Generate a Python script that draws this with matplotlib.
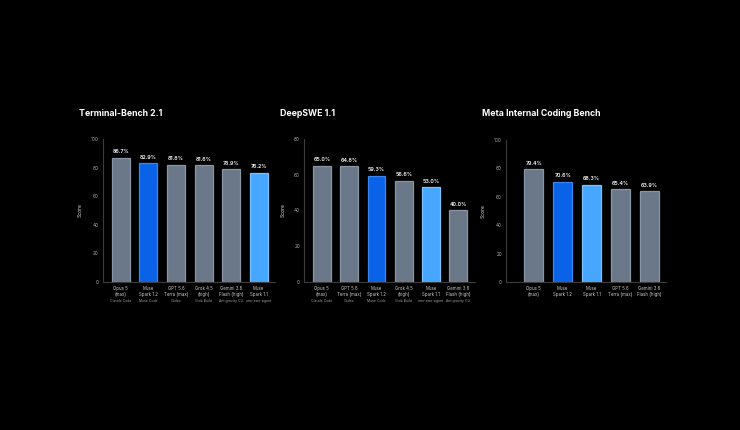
import matplotlib
matplotlib.use("Agg")
import matplotlib.pyplot as plt

plt.rcParams["font.family"] = ["Inter", "DejaVu Sans"]

GRAY = "#6b7889"
GRAY_EDGE = "#8a96a5"
BLUE = "#0a63e6"
BLUE_EDGE = "#3a86f0"
LIGHT = "#47a6ff"
LIGHT_EDGE = "#7cc2ff"

# Terminal-Bench 2.1
tb_models = ["Opus 5\n(max)", "Muse\nSpark 1.2", "GPT 5.6\nTerra (max)",
             "Grok 4.5\n(high)", "Gemini 3.6\nFlash (high)", "Muse\nSpark 1.1"]
tb_harness = ["Claude Code", "Muse Code", "Codex", "Grok Build",
              "Antigravity CLI", "mini-swe-agent"]
tb_scores = [86.7, 82.9, 81.8, 81.6, 78.9, 76.2]
tb_kind = ["gray", "blue", "gray", "gray", "gray", "light"]

# DeepSWE 1.1
ds_models = ["Opus 5\n(max)", "GPT 5.6\nTerra (max)", "Muse\nSpark 1.2",
             "Grok 4.5\n(high)", "Muse\nSpark 1.1", "Gemini 3.6\nFlash (high)"]
ds_harness = ["Claude Code", "Codex", "Muse Code", "Grok Build",
              "mini-swe-agent", "Antigravity CLI"]
ds_scores = [65.0, 64.8, 59.3, 56.6, 53.0, 40.0]
ds_kind = ["gray", "gray", "blue", "gray", "light", "gray"]

# Meta Internal Coding Bench
mi_models = ["Opus 5\n(max)", "Muse\nSpark 1.2", "Muse\nSpark 1.1",
             "GPT 5.6\nTerra (max)", "Gemini 3.6\nFlash (high)"]
mi_harness = None
mi_scores = [79.4, 70.6, 68.3, 65.4, 63.9]
mi_kind = ["gray", "blue", "light", "gray", "gray"]

fill = {"gray": GRAY, "blue": BLUE, "light": LIGHT}
edge = {"gray": GRAY_EDGE, "blue": BLUE_EDGE, "light": LIGHT_EDGE}

fig = plt.figure(figsize=(7.4, 4.3), dpi=100, facecolor="black")


def panel(rect, title, models, harness, scores, kinds, ymax, xlim):
    ax = fig.add_axes(rect)
    ax.set_facecolor("black")
    xs = list(range(len(scores)))
    ax.bar(xs, scores, width=0.65,
           color=[fill[k] for k in kinds],
           edgecolor=[edge[k] for k in kinds], linewidth=0.9)
    for x, s in zip(xs, scores):
        ax.annotate(f"{s:.1f}%", (x, s), xytext=(0, 2.5), textcoords="offset points",
                    ha="center", va="bottom", color="white", fontsize=3.8,
                    fontweight="semibold")
    ax.set_ylim(0, ymax)
    ax.set_yticks(range(0, ymax + 1, 20))
    ax.set_xlim(*xlim)
    ax.set_xticks(xs)
    ax.set_xticklabels(models, fontsize=3.1, color="#cccccc", linespacing=1.3)
    ax.tick_params(axis="both", length=0, pad=3)
    ax.tick_params(axis="y", labelsize=3.4, labelcolor="#b0b0b0")
    for side in ("top", "right"):
        ax.spines[side].set_visible(False)
    for side in ("left", "bottom"):
        ax.spines[side].set_color("#3c3c3c")
        ax.spines[side].set_linewidth(0.8)
    ax.set_ylabel("Score", fontsize=3.6, color="#e0e0e0", labelpad=6)
    if harness:
        for x, h in zip(xs, harness):
            ax.annotate(h, (x, 0), xycoords=("data", "axes fraction"),
                        xytext=(0, -12), textcoords="offset points",
                        ha="center", va="top", fontsize=2.5, color="#a0a0a0")
    fig.text(rect[0] - 0.032, 0.737, title, color="white", fontsize=6.3,
             fontweight="bold", ha="left", va="center")
    return ax


panel([0.139, 0.344, 0.233, 0.333], "Terminal-Bench 2.1",
      tb_models, tb_harness, tb_scores, tb_kind, 100, (-0.65, 5.6))
panel([0.411, 0.344, 0.231, 0.333], "DeepSWE 1.1",
      ds_models, ds_harness, ds_scores, ds_kind, 80, (-0.65, 5.62))
panel([0.684, 0.344, 0.216, 0.331], "Meta Internal Coding Bench",
      mi_models, mi_harness, mi_scores, mi_kind, 100, (-0.95, 4.57))

fig.savefig("out.png", dpi=100, facecolor="black")
